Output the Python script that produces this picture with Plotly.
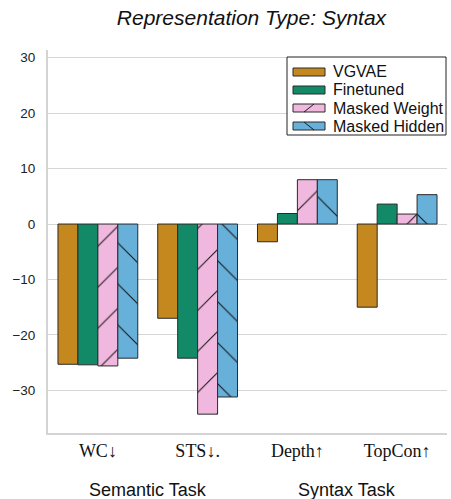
import plotly.graph_objects as go

categories = ["WC↓", "STS↓.", "Depth↑", "TopCon↑"]
vgvae = [-25.3, -17.0, -3.2, -15.0]
finetuned = [-25.4, -24.2, 1.9, 3.6]
masked_weight = [-25.6, -34.3, 8.0, 1.8]
masked_hidden = [-24.2, -31.2, 8.0, 5.3]
y_ticks = [-30, -20, -10, 0, 10, 20, 30]
group_labels = ["Semantic Task", "Syntax Task"]
series_names = ["VGVAE", "Finetuned", "Masked Weight", "Masked Hidden"]
series_colors = ["#c4881f", "#138a67", "#f1b8df", "#67b0da"]
series_shapes = ["", "", "/", "\\"]
series_values = [vgvae, finetuned, masked_weight, masked_hidden]

x = list(range(len(categories)))

# plot area in pixels
W, H = 451, 499
L, R, T, B = 48, 4, 50, 66
PW, PH = W - L - R, H - T - B


def px_x(px):
    return (px - L) / PW


def px_y(py):
    return (H - B - py) / PH


fig = go.Figure()
for name, vals, color, shape in zip(series_names, series_values, series_colors, series_shapes):
    fig.add_trace(go.Bar(
        x=x, y=vals, name=name, showlegend=False, hoverinfo="skip",
        marker=dict(
            color=color,
            line=dict(color="#2a2a2a", width=1),
            pattern=dict(shape=shape, fgcolor="#111111", fgopacity=1, size=29, solidity=0.035),
        ),
    ))

fig.update_layout(
    width=W, height=H,
    margin=dict(l=L, r=R, t=T, b=B, autoexpand=False),
    paper_bgcolor="white", plot_bgcolor="white",
    barmode="group", bargap=0.2, bargroupgap=0,
    title=dict(text="<i>Representation Type: Syntax</i>", x=0.51, xref="paper",
               y=1 - 18 / H, yref="container", xanchor="center", yanchor="middle",
               font=dict(family="Liberation Sans, Arial, sans-serif", size=21, color="#111")),
    font=dict(family="Liberation Sans, Arial, sans-serif", color="#222"),
    showlegend=False,
)

fig.update_xaxes(
    tickvals=x, ticktext=categories, range=[-0.5, 3.5], automargin=False,
    showgrid=False, zeroline=False,
    showline=True, linecolor="#d4d4d4", linewidth=2,
    ticks="", tickfont=dict(family="Liberation Serif, Times New Roman, serif", size=18, color="#111"),
)
fig.update_yaxes(
    tickvals=y_ticks, range=[-37.7, 31.4], automargin=False,
    showgrid=True, gridcolor="#d6d6d6", gridwidth=1,
    zeroline=True, zerolinecolor="#d6d6d6", zerolinewidth=1,
    showline=True, linecolor="#d4d4d4", linewidth=2,
    ticks="", ticklabelstandoff=8, tickfont=dict(size=13.5, color="#222"),
)

for i, lab in enumerate(group_labels):
    fig.add_annotation(
        x=0.5 + 2 * i, xref="x", y=px_y(490), yref="paper",
        text=lab, showarrow=False, yanchor="middle",
        font=dict(family="Liberation Sans, Arial, sans-serif", size=18, color="#111"),
    )

# custom legend
fig.add_shape(type="rect", xref="paper", yref="paper",
              x0=px_x(287), x1=px_x(446), y0=px_y(135), y1=px_y(57),
              line=dict(color="#222", width=1), fillcolor="white", layer="above")
row_y = [72, 90, 108, 126]
for name, color, shape, ry in zip(series_names, series_colors, series_shapes, row_y):
    fig.add_shape(type="rect", xref="paper", yref="paper",
                  x0=px_x(293), x1=px_x(325), y0=px_y(ry + 4), y1=px_y(ry - 4),
                  line=dict(color="#2a2a2a", width=1), fillcolor=color, layer="above")
    if shape == "/":
        fig.add_shape(type="line", xref="paper", yref="paper",
                      x0=px_x(304), x1=px_x(314), y0=px_y(ry + 4), y1=px_y(ry - 4),
                      line=dict(color="#1a1a1a", width=1), layer="above")
    elif shape == "\\":
        fig.add_shape(type="line", xref="paper", yref="paper",
                      x0=px_x(304), x1=px_x(314), y0=px_y(ry - 4), y1=px_y(ry + 4),
                      line=dict(color="#1a1a1a", width=1), layer="above")
    fig.add_annotation(x=px_x(331), xref="paper", y=px_y(ry), yref="paper",
                       text=name, showarrow=False, xanchor="left", yanchor="middle",
                       font=dict(size=16, color="#111"))

fig.write_html(
    "out.html",
    config={"displayModeBar": False},
    post_script="document.body.style.margin='0';document.body.style.overflow='hidden';",
)
